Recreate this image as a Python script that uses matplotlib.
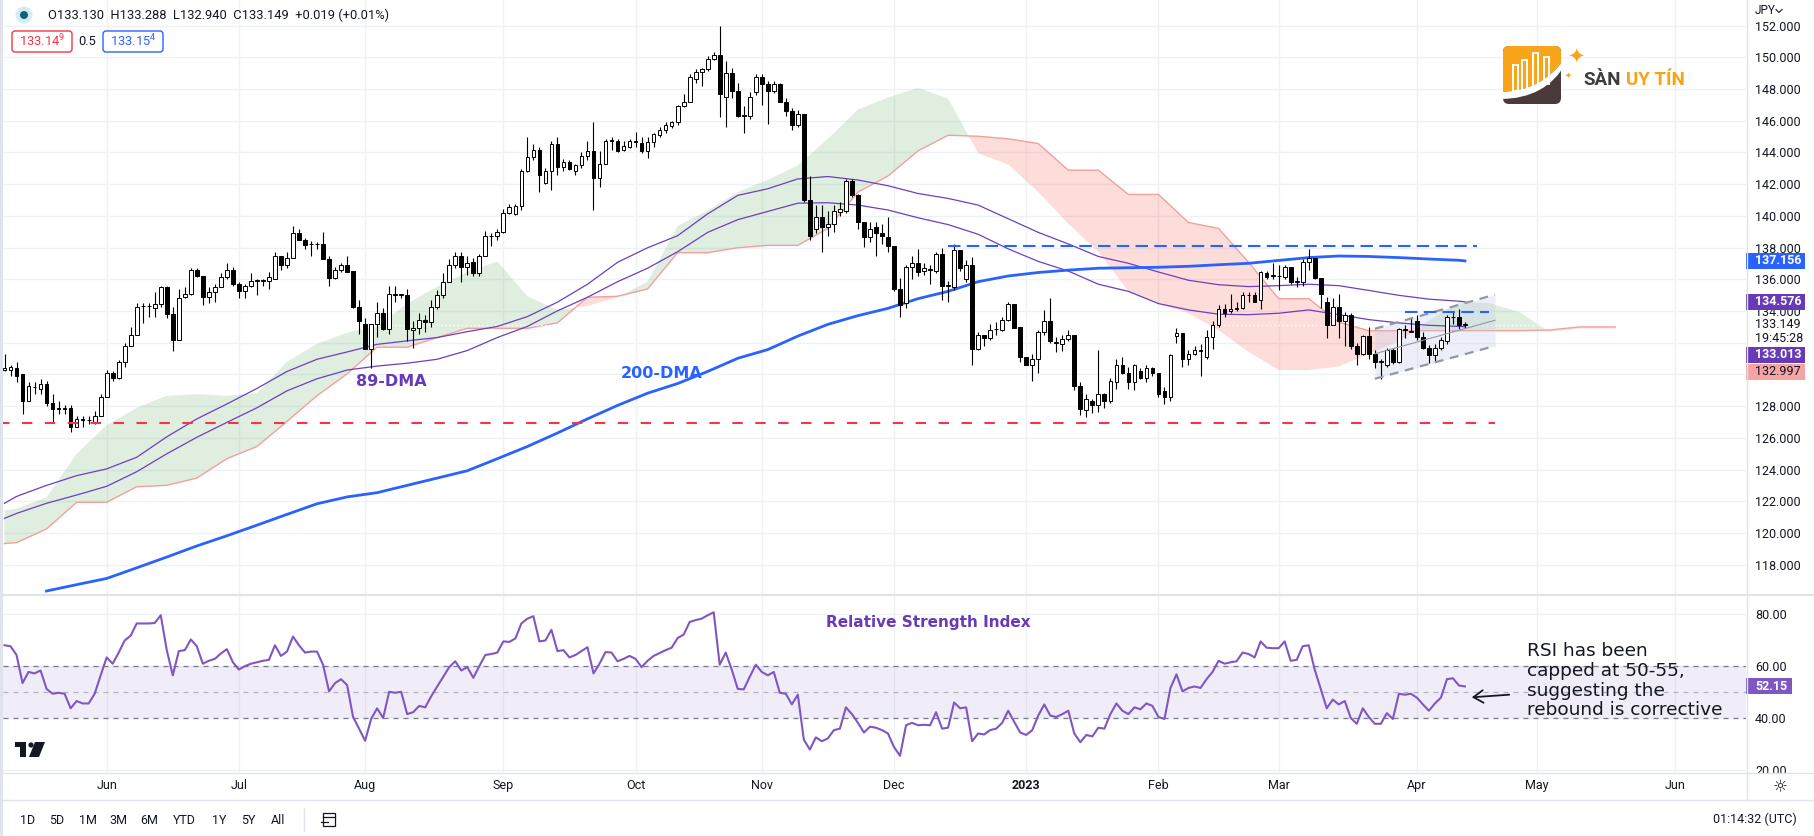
import numpy as np
import pandas as pd
import matplotlib
matplotlib.use('Agg')
import matplotlib.pyplot as plt
import matplotlib.patches as patches
from matplotlib.path import Path

plt.rcParams['font.family'] = ['Roboto', 'DejaVu Sans']
plt.rcParams['mathtext.default'] = 'regular'

# ---------------- data (USD/JPY daily) ----------------
first_day = '2022-05-09'

opens = [130.3, 130.3, 130.4, 130.0, 128.3, 129.2, 129.1, 129.4, 128.2, 127.9, 127.8, 127.9, 126.7, 127.2, 127.1, 127.0, 127.4,
         128.6, 130.1, 129.8, 130.8, 131.8, 132.5, 134.3, 134.3, 134.2, 134.45,
         135.5, 133.8, 132.2, 134.9, 135.05, 136.6, 136.2, 134.9, 135.2, 135.5,
         136.15, 136.6, 135.7, 135.25, 135.6, 135.9, 135.9, 135.9, 136.0, 137.45,
         136.9, 137.35, 138.95, 138.45, 138.2, 138.2, 138.2, 137.3, 136.1, 136.6,
         136.9, 136.5, 134.25, 133.2, 131.6, 133.2, 133.9, 132.85, 135.05, 135.0,
         135.0, 132.8, 132.95, 133.45, 133.3, 134.25, 135.0, 135.85, 136.9, 137.45,
         136.75, 137.1, 136.4, 137.5, 138.7, 138.75, 139.0, 140.2, 140.1, 140.6,
         142.8, 143.7, 144.15, 142.1, 142.8, 144.55, 143.1, 143.4, 142.8, 143.2,
         143.75, 144.1, 142.4, 143.3, 144.75, 144.75, 144.15, 144.35, 144.7, 144.6,
         144.1, 144.65, 145.1, 145.4, 145.65, 145.9, 146.9, 147.2, 148.6, 149.05,
         149.25, 149.9, 150.15, 147.5, 149.0, 147.9, 146.3, 146.3, 147.8, 148.75,
         148.3, 147.9, 148.3, 147.15, 146.6, 145.7, 146.4, 141.0, 139.15, 139.9,
         139.3, 139.5, 140.25, 140.3, 142.2, 141.3, 139.6, 138.65, 139.3, 138.95,
         138.65, 138.1, 135.4, 134.5, 136.75, 137.05, 136.5, 136.6, 136.5, 137.6,
         135.6, 135.5, 137.85, 136.0, 136.9, 131.6, 132.5, 132.3, 132.85, 132.8,
         133.45, 134.45, 133.0, 131.1, 130.6, 131.0, 132.65, 133.4, 132.05, 131.95,
         132.25, 132.5, 129.3, 127.75, 128.35, 128.05, 128.8, 128.35, 129.5, 130.6,
         130.1, 129.5, 130.2, 129.75, 130.4, 130.1, 128.95, 128.6, 132.4, 132.6,
         131.0, 131.3, 131.5, 131.1, 132.35, 133.15, 134.15, 134.0, 134.15, 134.2,
         135.0, 135.0, 134.7, 136.4, 136.2, 136.2, 136.15, 136.75, 135.85, 135.85,
         137.1, 137.35, 136.1, 134.55, 133.15, 134.25, 133.35, 133.75, 131.8, 131.3,
         132.45, 131.3, 130.8, 130.6, 131.55, 130.8, 132.85, 132.7, 133.35, 132.35,
         131.7, 131.25, 131.7, 132.1, 133.6, 133.65, 133.13]

highs = [131.3, 130.6, 130.8, 130.0, 129.5, 129.5, 129.7, 129.6, 128.8, 128.3, 128.1, 128.1, 127.4, 127.4, 127.4, 127.7, 128.8,
         130.3, 130.2, 130.9, 132.0, 133.0, 134.5, 134.5, 134.5, 135.2, 135.6,
         135.6, 134.25, 135.4, 135.5, 136.7, 136.7, 136.2, 135.5, 135.7, 136.4,
         137.0, 136.8, 135.85, 135.7, 136.4, 136.0, 136.0, 136.45, 137.75, 137.5,
         137.75, 139.35, 139.15, 138.6, 138.4, 138.35, 139.0, 137.45, 136.75, 137.0,
         137.45, 136.5, 134.7, 133.55, 133.2, 134.6, 134.2, 135.55, 135.6, 135.1,
         135.4, 133.35, 133.9, 133.75, 134.7, 135.3, 136.4, 137.3, 137.75, 137.75,
         137.45, 137.35, 137.6, 139.05, 138.95, 139.15, 140.45, 140.75, 140.75, 142.95,
         145.0, 144.55, 144.35, 143.0, 144.7, 144.95, 143.6, 143.55, 143.3, 144.05,
         144.7, 145.9, 144.1, 144.85, 144.95, 144.85, 144.7, 144.85, 145.3, 145.0,
         144.95, 145.25, 145.6, 145.9, 146.0, 147.0, 147.7, 148.95, 149.25, 149.35,
         150.05, 150.35, 151.95, 149.75, 149.3, 148.4, 146.9, 147.8, 148.95, 148.95,
         148.5, 148.5, 148.4, 147.4, 146.8, 146.7, 146.4, 142.5, 140.7, 140.7,
         140.3, 140.7, 140.9, 142.3, 142.3, 141.4, 139.6, 139.6, 139.6, 139.5,
         139.95, 138.1, 136.1, 136.9, 137.45, 137.9, 137.0, 136.9, 137.75, 138.0,
         135.9, 138.2, 137.85, 137.2, 137.4, 132.65, 132.5, 133.2, 133.3, 133.65,
         134.55, 134.45, 133.0, 131.1, 131.3, 132.8, 134.05, 134.8, 132.35, 132.5,
         132.8, 132.5, 129.5, 128.8, 128.45, 131.55, 128.85, 129.75, 130.95, 131.1,
         130.5, 130.65, 130.4, 130.6, 130.5, 130.1, 129.2, 131.3, 132.95, 132.6,
         131.55, 131.8, 131.9, 132.8, 133.35, 134.4, 134.45, 135.1, 134.55, 135.2,
         135.2, 135.2, 136.5, 136.5, 137.05, 136.9, 136.9, 136.75, 136.15, 137.3,
         137.9, 137.35, 136.1, 134.9, 134.8, 135.1, 133.95, 133.85, 132.0, 132.5,
         133.0, 131.55, 131.0, 131.7, 131.65, 132.95, 133.12, 133.6, 133.75, 132.65,
         131.86, 131.95, 132.35, 133.75, 133.95, 134.1, 133.288]

lows = [130.2, 129.9, 129.5, 127.5, 128.3, 128.8, 128.8, 128.0, 127.0, 127.5, 127.5, 126.4, 126.7, 126.7, 126.9, 126.9, 127.4,
        128.6, 129.6, 129.7, 130.5, 131.8, 132.5, 133.25, 133.6, 133.6, 134.25,
        133.55, 131.5, 132.2, 134.85, 135.0, 136.15, 134.4, 134.5, 134.6, 135.5,
        136.0, 135.6, 134.8, 134.85, 135.5, 135.0, 135.6, 135.4, 136.0, 136.6,
        136.7, 137.35, 138.45, 137.9, 137.45, 137.9, 137.3, 135.6, 136.0, 136.45,
        136.45, 134.2, 132.55, 131.6, 130.4, 132.35, 132.8, 132.55, 134.6, 134.8,
        132.1, 131.7, 132.55, 132.65, 133.0, 134.1, 134.85, 135.85, 136.7, 135.85,
        136.3, 136.2, 136.2, 137.5, 138.1, 138.45, 138.9, 140.1, 140.05, 140.4,
        142.75, 143.5, 141.5, 142.0, 141.65, 142.55, 142.8, 142.9, 142.6, 143.0,
        143.5, 140.4, 141.8, 143.25, 144.15, 144.05, 144.1, 144.25, 144.35, 143.95,
        143.65, 144.35, 145.0, 145.25, 145.55, 145.7, 146.85, 147.15, 148.4, 148.2,
        149.15, 149.85, 146.25, 145.6, 147.45, 146.25, 145.25, 146.1, 147.6, 147.0,
        145.8, 147.75, 147.15, 146.3, 145.4, 145.6, 140.9, 138.5, 138.9, 137.7,
        138.75, 139.0, 140.0, 140.2, 141.2, 139.2, 138.05, 138.35, 137.5, 138.25,
        137.75, 135.25, 133.65, 134.2, 136.0, 136.2, 136.3, 135.7, 136.4, 134.7,
        134.55, 135.3, 136.5, 135.85, 130.6, 131.55, 131.8, 132.2, 132.5, 132.75,
        133.4, 132.9, 130.8, 130.6, 129.6, 130.1, 132.5, 132.0, 131.4, 131.5,
        132.1, 129.0, 127.45, 127.35, 127.55, 127.65, 127.9, 128.2, 129.1, 130.05,
        129.1, 129.05, 129.7, 129.5, 129.9, 128.6, 128.15, 128.35, 132.0, 130.5,
        130.6, 131.2, 129.9, 131.0, 131.6, 133.0, 133.65, 133.85, 134.0, 134.1,
        134.55, 134.55, 134.1, 136.0, 136.0, 135.3, 136.0, 135.7, 135.5, 135.6,
        136.6, 136.0, 134.2, 132.3, 133.1, 132.3, 131.8, 131.6, 130.6, 131.2,
        131.0, 130.4, 129.7, 130.5, 130.65, 130.7, 132.28, 132.65, 132.18, 131.6,
        130.7, 130.8, 131.55, 131.95, 133.2, 132.85, 132.94]

closes = [130.4, 130.5, 129.9, 128.3, 129.3, 129.2, 129.4, 128.2, 127.8, 127.8, 127.9, 126.7, 127.2, 127.1, 127.1, 127.4, 128.6,
          130.1, 129.8, 130.8, 131.8, 132.5, 134.25, 134.3, 134.3, 134.45, 135.5,
          133.8, 132.2, 134.85, 135.05, 136.6, 136.2, 134.9, 135.2, 135.5, 136.15,
          136.6, 135.7, 135.25, 135.6, 135.9, 135.9, 135.9, 136.15, 137.45, 136.9,
          137.35, 138.95, 138.45, 138.15, 138.2, 138.2, 137.3, 136.1, 136.6, 136.9,
          136.45, 134.25, 133.35, 131.6, 133.2, 133.9, 132.85, 135.1, 135.0, 135.05,
          132.85, 132.95, 133.45, 133.3, 134.25, 135.0, 135.85, 136.9, 137.45, 136.75,
          137.05, 136.4, 137.5, 138.7, 138.75, 139.0, 140.2, 140.55, 140.6, 142.8,
          143.7, 144.15, 142.55, 142.8, 144.55, 143.1, 143.4, 142.95, 143.2, 143.75,
          144.1, 142.4, 143.3, 144.75, 144.75, 144.1, 144.4, 144.7, 144.65, 144.1,
          144.65, 145.15, 145.4, 145.7, 145.9, 146.9, 147.2, 148.75, 149.05, 149.25,
          149.9, 150.15, 147.7, 149.0, 147.9, 146.3, 146.3, 147.5, 148.75, 148.3,
          147.9, 148.3, 147.15, 146.6, 145.7, 146.4, 141.0, 138.75, 139.95, 139.3,
          139.5, 140.3, 140.45, 142.2, 141.3, 139.6, 138.65, 139.2, 138.9, 138.75,
          138.1, 135.4, 134.4, 136.75, 137.05, 136.45, 136.7, 136.6, 137.6, 135.6,
          135.6, 137.85, 136.7, 136.9, 131.6, 132.5, 132.3, 132.8, 132.85, 133.45,
          134.45, 132.95, 131.1, 130.6, 131.0, 132.65, 133.4, 132.1, 132.0, 132.25,
          132.5, 129.3, 127.85, 128.45, 128.05, 128.8, 128.35, 129.6, 130.6, 130.1,
          129.5, 130.6, 129.75, 130.4, 130.1, 128.8, 128.6, 131.2, 132.6, 131.0,
          131.3, 131.55, 131.5, 132.35, 133.15, 134.15, 133.85, 134.1, 134.2, 135.0,
          135.0, 134.6, 136.45, 136.15, 136.25, 136.2, 136.75, 135.8, 135.85, 137.1,
          137.35, 136.1, 135.1, 133.15, 134.25, 133.35, 133.75, 131.8, 131.3, 132.45,
          131.3, 130.8, 130.8, 131.55, 130.8, 132.85, 132.8, 132.75, 132.35, 131.65,
          131.25, 131.7, 132.2, 133.6, 133.65, 133.1, 133.149]

rsi = [67.97, 67.6, 64.24, 53.43, 57.71, 57.15, 58.27, 51.19, 49.32, 49.7, 49.32, 43.73, 46.53, 45.6, 45.6, 49.32, 56.41,
       63.31, 60.88, 65.17, 69.83, 71.7, 76.36, 76.36, 76.36, 76.54, 79.52,
       66.1, 56.41, 65.73, 66.1, 70.2, 67.6, 60.88, 62.0, 62.75, 64.8,
       66.48, 61.44, 58.64, 59.95, 60.88, 61.44, 62.0, 62.37, 67.97, 63.87,
       65.55, 71.32, 67.97, 65.17, 65.55, 65.55, 60.51, 50.25, 53.43, 54.92,
       52.68, 40.38, 35.9, 31.24, 39.63, 43.73, 40.0, 50.07, 49.7, 50.07,
       41.49, 42.24, 44.66, 44.1, 48.39, 52.12, 55.85, 59.58, 61.82, 58.27,
       59.58, 55.47, 59.95, 64.24, 64.61, 65.17, 69.46, 69.27, 70.58, 76.36,
       78.22, 79.15, 69.46, 69.83, 73.93, 65.73, 66.1, 63.31, 64.24, 65.73,
       67.22, 57.15, 60.88, 65.36, 65.17, 61.82, 62.75, 63.87, 62.75, 59.58,
       62.0, 63.87, 64.98, 66.1, 67.03, 70.76, 72.07, 76.92, 77.67, 78.22,
       79.52, 80.64, 60.51, 65.17, 58.64, 51.19, 51.0, 55.85, 60.51, 57.71,
       56.41, 57.71, 49.7, 49.32, 45.22, 48.95, 31.61, 27.88, 32.55, 31.05,
       32.17, 35.34, 35.9, 44.1, 41.49, 38.14, 34.41, 36.65, 36.27, 35.34,
       34.04, 28.82, 25.46, 37.21, 38.14, 37.21, 37.39, 37.21, 42.24, 35.9,
       36.27, 45.97, 43.73, 44.1, 31.05, 34.04, 33.66, 35.34, 35.9, 38.14,
       42.8, 38.51, 34.41, 33.48, 35.34, 40.94, 45.22, 40.94, 40.38, 41.49,
       42.8, 34.04, 30.68, 33.48, 32.92, 36.27, 35.9, 41.49, 45.6, 42.8,
       41.49, 44.1, 43.36, 45.6, 44.66, 40.38, 39.63, 51.56, 56.78, 50.25,
       51.56, 52.12, 51.56, 54.92, 57.71, 62.0, 60.88, 61.44, 61.82, 65.17,
       64.61, 63.31, 69.46, 67.03, 66.85, 66.85, 69.46, 62.0, 62.37, 67.6,
       67.97, 58.64, 51.19, 43.73, 47.08, 45.22, 46.53, 40.0, 37.77, 43.73,
       40.38, 37.77, 37.77, 41.87, 39.63, 49.32, 48.95, 49.32, 47.83, 45.22,
       42.8, 45.6, 47.83, 54.92, 55.29, 52.5, 52.15]

# moving averages, sampled weekly
ind_dates = ['2022-05-09', '2022-05-11', '2022-05-18', '2022-05-25', '2022-06-01', '2022-06-08', '2022-06-15',
             '2022-06-22', '2022-06-29', '2022-07-06', '2022-07-13', '2022-07-20', '2022-07-27', '2022-08-03',
             '2022-08-10', '2022-08-17', '2022-08-24', '2022-08-31', '2022-09-07', '2022-09-14', '2022-09-21',
             '2022-09-28', '2022-10-05', '2022-10-12', '2022-10-19', '2022-10-26', '2022-11-02', '2022-11-09',
             '2022-11-16', '2022-11-23', '2022-11-30', '2022-12-07', '2022-12-14', '2022-12-21', '2022-12-28',
             '2023-01-04', '2023-01-11', '2023-01-18', '2023-01-25', '2023-02-01', '2023-02-08', '2023-02-15',
             '2023-02-22', '2023-03-01', '2023-03-08', '2023-03-15', '2023-03-22', '2023-03-29', '2023-04-05',
             '2023-04-12', '2023-04-13']
ma_55 = [121.88, 122.31, 123.01, 123.62, 124.05, 124.78, 126.07, 127.2, 128.14, 129.12,
         130.19, 130.96, 131.42, 131.9, 132.12, 132.33, 132.7, 133.03, 133.65, 134.56,
         135.69, 137.07, 137.99, 138.75, 140.13, 141.29, 141.71, 142.33, 142.48, 142.26,
         141.9, 141.41, 141.1, 140.68, 139.82, 138.96, 138.23, 137.44, 137.01, 136.46,
         135.94, 135.66, 135.54, 135.6, 135.69, 135.6, 135.3, 134.99, 134.75, 134.62, 134.58]
ma_89 = [120.93, 121.24, 121.88, 122.4, 122.95, 123.87, 125.0, 126.04, 126.98, 127.9,
         128.97, 129.73, 130.28, 130.53, 130.71, 130.96, 131.51, 132.33, 133.03, 134.01,
         134.87, 135.85, 136.7, 137.74, 138.96, 139.76, 140.28, 140.8, 140.83, 140.68,
         140.37, 139.88, 139.45, 138.84, 137.92, 137.13, 136.52, 135.69, 135.24, 134.47,
         134.07, 133.8, 133.77, 133.86, 134.07, 133.77, 133.46, 133.25, 133.1, 133.03, 133.01]
ma_200 = [None, None, 116.35, 116.75, 117.14, 117.81, 118.49, 119.19, 119.83, 120.5,
          121.18, 121.85, 122.28, 122.55, 123.01, 123.47, 123.93, 124.69, 125.46, 126.31,
          127.2, 128.05, 128.82, 129.43, 130.19, 131.02, 131.57, 132.42, 133.16, 133.71,
          134.17, 134.78, 135.24, 135.85, 136.21, 136.43, 136.58, 136.7, 136.73, 136.76,
          136.82, 136.92, 137.01, 137.19, 137.37, 137.47, 137.44, 137.37, 137.28, 137.2, 137.16]

# ichimoku cloud (leading spans, shifted 26 bars ahead)
cloud_dates = ind_dates[:50] + ['2023-04-19', '2023-04-26', '2023-05-03', '2023-05-10', '2023-05-17', '2023-05-18']
span_a = [121.42, 121.54, 122.25, 125.0, 126.8, 127.9, 128.66, 128.76, 128.66, 128.82,
          130.8, 131.93, 132.64, 133.03, 134.47, 135.54, 136.46, 137.13, 134.93, 134.07,
          134.32, 134.87, 135.85, 139.36, 140.34, 141.5, 142.27, 143.18, 144.86, 146.7,
          147.46, 148.07, 147.4, 143.95, 143.24, 141.5, 139.51, 137.74, 135.24, 134.47,
          133.86, 132.79, 131.42, 130.28, 130.28, 130.5, 131.3, 132.1, 133.4, 134.55,
          134.5, 133.95, 132.7, 132.9, 132.9, 132.9]
span_b = [119.34, 119.4, 120.26, 121.94, 121.94, 122.92, 123.01, 123.47, 124.69, 125.46,
          127.04, 128.66, 130.04, 131.72, 131.72, 132.33, 132.91, 132.91, 132.91, 133.25,
          134.87, 134.93, 135.39, 137.68, 137.68, 137.99, 138.14, 138.14, 139.21, 141.5,
          142.51, 144.1, 145.08, 145.02, 144.86, 144.56, 142.88, 142.88, 141.35, 141.35,
          139.58, 139.21, 137.07, 134.78, 134.78, 133.3, 132.76, 132.76, 132.76, 132.76,
          132.76, 132.76, 132.8, 133.0, 133.0, 133.0]

# drawings on the chart
resist_level, resist_span = 138.1, ('2022-12-14', '2023-04-17')
support_level, support_span = 126.97, ('2022-05-06', '2023-04-20')
short_level, short_span = 133.95, ('2023-03-30', '2023-04-19')
chan_dates = ('2023-03-23', '2023-04-20')
chan_upper = (132.88, 135.04)
chan_lower = (129.73, 131.80)

last_price = 133.149
axis_tags = [(137.156, '#2962FF', 'white'), (134.576, '#673AB7', 'white'),
             (133.013, '#673AB7', 'white'), (132.997, '#F5A3A3', '#131722')]
rsi_last = 52.15
price_ticks = list(range(118, 153, 2))
hidden_ticks = [130, 132]   # covered by the price tags on the axis
rsi_ticks = [20, 40, 60, 80]

assert len(opens) == len(highs) == len(lows) == len(closes) == len(rsi)

# ---------------- layout ----------------
W, H = 1814, 836
fig = plt.figure(figsize=(W / 100, H / 100), dpi=100)


def rect(x0, y0, x1, y1):
    return [x0 / W, 1 - y1 / H, (x1 - x0) / W, (y1 - y0) / H]


ax = fig.add_axes(rect(3, 0, 1746, 594))
axr = fig.add_axes(rect(3, 595, 1746, 772))
ov = fig.add_axes([0, 0, 1, 1], zorder=10)
ov.set_xlim(0, W)
ov.set_ylim(H, 0)
ov.axis('off')

all_days = pd.bdate_range('2022-05-02', '2023-07-31')
pos = {d.strftime('%Y-%m-%d'): k for k, d in enumerate(all_days)}
x0 = pos[first_day]
n = len(closes)
x = x0 + np.arange(n)
xlim = (x0 - 0.25, x0 + 289.76)

o = np.array(opens); h = np.array(highs); l = np.array(lows); c = np.array(closes)

GRID = '#EEF1F6'
month_first = all_days.to_series().groupby([all_days.year, all_days.month]).first()
mpos, mlab = [], []
for d in month_first:
    p = pos[d.strftime('%Y-%m-%d')]
    if xlim[0] < p < xlim[1]:
        mpos.append(p)
        mlab.append(str(d.year) if d.month == 1 else d.strftime('%b'))

# ---- main pane ----
ax.set_xlim(*xlim)
ax.set_ylim(116.16, 153.61)
for s in ax.spines.values():
    s.set_visible(False)
ax.set_xticks(mpos)
ax.set_xticklabels([])
ax.set_yticks(price_ticks)
ax.set_yticklabels(['' if t in hidden_ticks else '%.3f' % t for t in price_ticks])
ax.yaxis.tick_right()
ax.tick_params(axis='both', length=0)
ax.tick_params(axis='y', pad=6.5, labelsize=9, labelcolor='#131722')
ax.grid(True, color=GRID, lw=1)
ax.set_axisbelow(True)

cx = np.array([pos[d] for d in cloud_dates])
A = np.array(span_a); B = np.array(span_b)
ax.fill_between(cx, A, B, where=A >= B, interpolate=True, color='#43A047', alpha=0.17, lw=0, zorder=1)
ax.fill_between(cx, A, B, where=A < B, interpolate=True, color='#F44336', alpha=0.18, lw=0, zorder=1)
ax.plot(cx, B, color='#F2A09C', lw=1, zorder=1.5)

ax.axhline(last_price, color='white', lw=1, ls=(0, (1, 2)), zorder=1.6)

# channel
cd = [pos[d] for d in chan_dates]
ax.fill_between(cd, chan_lower, chan_upper, color='#C5CAE9', alpha=0.3, lw=0, zorder=1.8)
ax.plot(cd, chan_upper, color='#9598A1', lw=1.6, ls=(0, (4, 3)), zorder=5)
ax.plot(cd, chan_lower, color='#9598A1', lw=1.6, ls=(0, (4, 3)), zorder=5)
ax.plot(cd, [(a + b) / 2 for a, b in zip(chan_upper, chan_lower)], color='#9598A1', lw=0.8, zorder=5)

ix = np.array([pos[d] for d in ind_dates])
ax.plot(ix, ma_55, color='#6A40C0', lw=0.9, zorder=2)
ax.plot(ix, ma_89, color='#6A40C0', lw=0.9, zorder=2)
ax.plot(ix, np.array(ma_200, dtype=float), color='#2962FF', lw=2, zorder=2)

# candles
ax.vlines(x, l, h, color='black', lw=0.8, zorder=3)
body_h = np.maximum(np.abs(c - o), 0.03)
ax.bar(x, body_h, bottom=np.minimum(o, c), width=0.62,
       color=np.where(c >= o, 'white', 'black'), edgecolor='black', linewidth=0.7, zorder=4)

# horizontal levels
ax.plot([pos[d] for d in resist_span], [resist_level] * 2, color='#2962FF', lw=1.5, ls=(0, (6, 3)), zorder=5)
ax.plot([pos[d] for d in short_span], [short_level] * 2, color='#2962FF', lw=1.5, ls=(0, (6, 3)), zorder=5)
ax.plot([pos[d] for d in support_span], [support_level] * 2, color='#F23645', lw=1.5, ls=(0, (5, 6)), zorder=5)

# ---- RSI pane ----
axr.set_xlim(*xlim)
axr.set_ylim(19.23, 87.31)
for s in axr.spines.values():
    s.set_visible(False)
axr.set_xticks(mpos)
axr.set_xticklabels(mlab)
for t in axr.get_xticklabels():
    if t.get_text().isdigit():
        t.set_fontweight('bold')
axr.set_yticks(rsi_ticks)
axr.set_yticklabels(['%.2f' % t for t in rsi_ticks])
axr.yaxis.tick_right()
axr.tick_params(axis='both', length=0, labelsize=9, labelcolor='#131722')
axr.tick_params(axis='y', pad=6.5)
axr.tick_params(axis='x', pad=5)
axr.grid(True, color=GRID, lw=1)
axr.set_axisbelow(True)
axr.axhspan(40, 60, color='#7E57C2', alpha=0.1, lw=0, zorder=1)
axr.axhline(60, color='#787B86', lw=0.9, ls=(0, (4, 4)), zorder=1.5)
axr.axhline(40, color='#787B86', lw=0.9, ls=(0, (4, 4)), zorder=1.5)
axr.axhline(50, color='#B2B5BE', lw=0.9, ls=(0, (4, 4)), zorder=1.5)
axr.plot(x, rsi, color='#7E57C2', lw=1.5, zorder=3)

# ---------------- overlay: frame, labels, header, logos ----------------
ov.add_patch(patches.Rectangle((0, 0), 3, H, fc='#E0E3EB', ec='none'))
ov.plot([0, W], [594.5, 594.5], color='#E0E3EB', lw=1.5)
ov.plot([0, W], [772.5, 772.5], color='#E0E3EB', lw=1)
ov.plot([0, W], [799.5, 799.5], color='#E0E3EB', lw=1)
ov.plot([1746.5, 1746.5], [0, 799], color='#E0E3EB', lw=1)

ov.add_patch(patches.Rectangle((1747.5, 0), 66, 20, fc='white', ec='none'))
ov.text(1755, 11, 'JPY', fontsize=8.5, color='#131722', va='center')
ov.plot([1776, 1779, 1782], [9.5, 12.5, 9.5], color='#131722', lw=0.8)
ov.add_patch(patches.Rectangle((1747.5, 773.5), 66, 25.5, fc='white', ec='none'))
ov.text(1780, 787, '☼', family='DejaVu Sans', fontsize=12, color='#131722', ha='center', va='center')


def price_py(p):
    return H - ax.transData.transform((xlim[0], p))[1]


fig.canvas.draw()
renderer = fig.canvas.get_renderer()
ypx = price_py(last_price)
ov.add_patch(patches.Rectangle((1747.5, ypx - 8), 66, 30, fc='white', ec='none'))
ov.text(1755, ypx, '%.3f' % last_price, fontsize=9, color='#131722', va='center')
ov.text(1755, ypx + 14, '19:45:28', fontsize=9, color='#131722', va='center')
offsets = [0, 0, 28, 45]
for (p, fc, tc), dy in zip(axis_tags, offsets):
    yy = price_py(p) + dy
    ov.add_patch(patches.Rectangle((1746, yy - 8), 59, 16, fc=fc, ec='none'))
    ov.text(1755, yy, '%.3f' % p, fontsize=9, color=tc, va='center',
            fontweight='bold' if tc == 'white' else 'normal')
ry = H - axr.transData.transform((xlim[0], rsi_last))[1]
ov.add_patch(patches.Rectangle((1746, ry - 8), 46, 16, fc='#7E57C2', ec='none'))
ov.text(1755, ry, '%.2f' % rsi_last, fontsize=9, color='white', va='center', fontweight='bold')

# header
ov.add_patch(patches.Circle((24, 15), 8.5, fc='#D5EDF0', ec='none'))
ov.add_patch(patches.Circle((24, 15), 4, fc='#145F80', ec='none'))
ov.text(48, 15, 'O133.130  H133.288  L132.940  C133.149  +0.019 (+0.01%)', fontsize=9.3,
        color='#131722', va='center')
ov.add_patch(patches.FancyBboxPatch((12, 31), 60, 21, boxstyle='round,pad=0,rounding_size=3',
                                    fc='white', ec='#F23645', lw=1))
ov.text(42, 41.5, '133.14$^{9}$', fontsize=9.3, color='#F23645', ha='center', va='center')
ov.text(87, 41.5, '0.5', fontsize=9.3, color='#131722', ha='center', va='center')
ov.add_patch(patches.FancyBboxPatch((103, 31), 60, 21, boxstyle='round,pad=0,rounding_size=3',
                                    fc='white', ec='#2962FF', lw=1))
ov.text(133, 41.5, '133.15$^{4}$', fontsize=9.3, color='#2962FF', ha='center', va='center')

# annotations
ov.text(391, 382, '89-DMA', family='DejaVu Sans', fontweight='bold', fontsize=11.5,
        color='#673AB7', ha='center', va='center')
ov.text(662, 374, '200-DMA', family='DejaVu Sans', fontweight='bold', fontsize=11.5,
        color='#2962FF', ha='center', va='center')
ov.text(928, 622, 'Relative Strength Index', family='DejaVu Sans', fontweight='bold', fontsize=11,
        color='#673AB7', ha='center', va='center')
for txt, yb in zip(['RSI has been', 'capped at 50-55,', 'suggesting the', 'rebound is corrective'],
                   [656.5, 676, 696, 715]):
    ov.text(1527, yb, txt, family='DejaVu Sans', fontsize=13.3, color='#131722', va='baseline')
ov.annotate('', xy=(1469, 697.5), xytext=(1512, 694.5),
            arrowprops=dict(arrowstyle='->,head_length=0.7,head_width=0.45', color='#131722', lw=1.3))

# TradingView logo
ov.add_patch(patches.Rectangle((15, 742), 11, 5, fc='#131722', ec='none'))
ov.add_patch(patches.Rectangle((20, 742), 6, 15, fc='#131722', ec='none'))
ov.add_patch(patches.Circle((31, 745), 2.6, fc='#131722', ec='none'))
ov.add_patch(patches.Polygon([(35, 742), (45, 742), (39, 757), (29, 757)], fc='#131722', ec='none'))

# bottom toolbar
for lab, xc in zip(['1D', '5D', '1M', '3M', '6M', 'YTD', '1Y', '5Y', 'All'],
                   [28, 57, 88, 118, 149, 184, 219, 248, 278]):
    ov.text(xc, 820, lab, fontsize=9, color='#131722', ha='center', va='center')
ov.plot([304, 304], [808, 831], color='#E0E3EB', lw=1)
ov.add_patch(patches.Rectangle((323, 813), 12, 13, fill=False, ec='#131722', lw=0.9))
ov.plot([323, 335], [817, 817], color='#131722', lw=0.9)
ov.plot([321, 328], [822, 822], color='#131722', lw=0.9)
ov.text(1797, 819, '01:14:32 (UTC)', fontsize=9, color='#131722', ha='right', va='center')

# Sàn Uy Tín logo
bg = patches.FancyBboxPatch((1503, 46), 58, 58, boxstyle='round,pad=0,rounding_size=6',
                            fc='#4A3A3B', ec='none')
ov.add_patch(bg)
top = Path([(1500, 92), (1542, 92), (1566, 57), (1570, 40), (1498, 40), (1500, 92)],
           [Path.MOVETO, Path.CURVE3, Path.CURVE3, Path.LINETO, Path.LINETO, Path.CLOSEPOLY])
pt = patches.PathPatch(top, fc='#F9A51A', ec='none')
ov.add_patch(pt)
pt.set_clip_path(bg)
band = Path([(1500, 92), (1542, 92), (1566, 57), (1566, 63), (1546, 99), (1500, 99), (1500, 92)],
            [Path.MOVETO, Path.CURVE3, Path.CURVE3, Path.LINETO, Path.CURVE3, Path.CURVE3, Path.CLOSEPOLY])
pb = patches.PathPatch(band, fc='white', ec='none')
ov.add_patch(pb)
pb.set_clip_path(bg)
for bx, by, bh in [(1513, 65, 26), (1522, 60, 30), (1533, 53, 35), (1544, 57, 27)]:
    ov.add_patch(patches.Rectangle((bx, by), 5, bh, fill=False, ec='white', lw=1.4))
ov.text(1576, 58, '✦', family='DejaVu Sans', fontsize=15, color='#F9A51A', ha='center', va='center')
ov.text(1568, 75, '✦', family='DejaVu Sans', fontsize=6, color='#F9A51A', ha='center', va='center')
t1 = ov.text(1583, 80, 'SÀN', fontsize=13.5, fontweight='bold', color='#3C3C3C', va='center')
bb = t1.get_window_extent(renderer=renderer)
x_end = ov.transData.inverted().transform((bb.x1, bb.y0))[0]
ov.text(x_end + 5, 80, 'UY TÍN', fontsize=13.5, fontweight='bold', color='#F5A31A', va='center')

fig.savefig('out.png', dpi=100)
